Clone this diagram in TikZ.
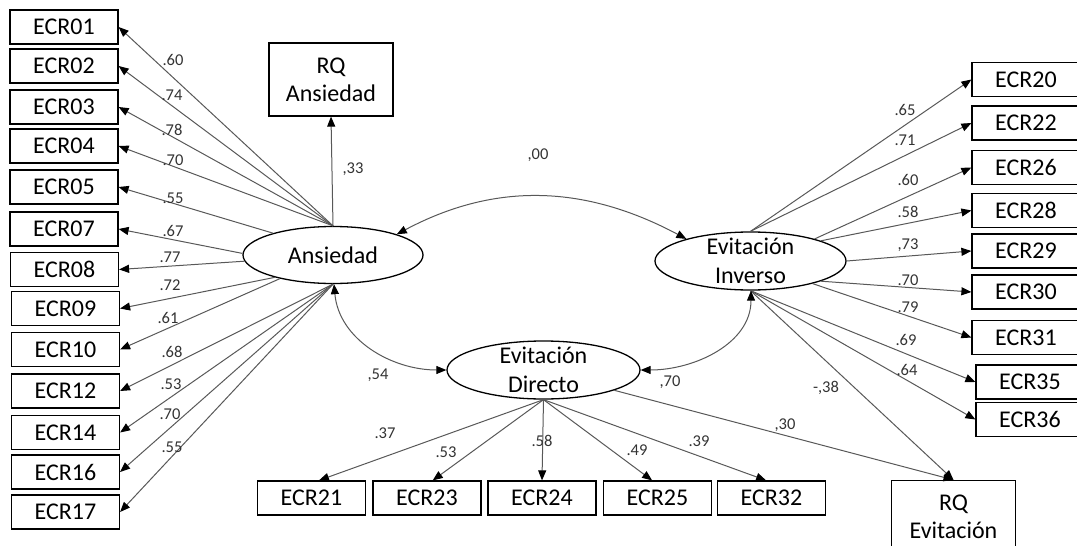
\documentclass[tikz,border=0pt]{standalone}
\usepackage{fontspec}
\setmainfont{Carlito}
\usetikzlibrary{arrows.meta,shapes.geometric}
\definecolor{linegray}{HTML}{585858}
\definecolor{labgray}{HTML}{333333}
\begin{document}
\begin{tikzpicture}[x=1pt,y=1pt,
  box/.style={draw=black, line width=1.2pt, minimum width=108pt, minimum height=34pt, inner sep=0pt, font=\fontsize{24}{27}\selectfont},
  rq/.style={draw=black, line width=1.2pt, minimum width=124pt, minimum height=73pt, inner sep=0pt, align=center, font=\fontsize{24}{28}\selectfont},
  lat/.style={draw=black, line width=1.3pt, ellipse, inner sep=0pt},
  lattext/.style={font=\fontsize{24}{29}\selectfont, align=center},
  ld/.style={draw=linegray, line width=1pt, -{Triangle[length=10pt,width=8pt,color=black]}},
  cov/.style={draw=linegray, line width=1pt, {Triangle[length=10pt,width=8pt,color=black]}-{Triangle[length=10pt,width=8pt,color=black]}},
  lab/.style={font=\fontsize{16.5}{18}\selectfont, text=labgray, inner sep=0pt},
]
\useasboundingbox (0,0) rectangle (1077,-546);

% latent variables
\node[lat, minimum width=180pt, minimum height=57pt, label={[lattext]center:Ansiedad}] (ans) at (333,-255) {};
\node[lat, minimum width=191pt, minimum height=58pt, label={[lattext]center:Evitación\\Inverso}] (inv) at (750.5,-261) {};
\node[lat, minimum width=193pt, minimum height=58pt, label={[lattext]center:Evitación\\Directo}] (dir) at (543.5,-370) {};

% RQ boxes
\node[rq] (rqa) at (331,-79.5) {RQ\\Ansiedad};
\node[rq] (rqe) at (953.5,-517) {RQ\\Evitación};

% left indicators
\node[box] (e01) at (64,-27) {ECR01};
\node[box] (e02) at (64,-66) {ECR02};
\node[box] (e03) at (64,-107) {ECR03};
\node[box] (e04) at (64,-146) {ECR04};
\node[box] (e05) at (64,-187) {ECR05};
\node[box] (e07) at (64,-229) {ECR07};
\node[box] (e08) at (64.5,-269.5) {ECR08};
\node[box] (e09) at (65.5,-308.5) {ECR09};
\node[box] (e10) at (65.5,-349.5) {ECR10};
\node[box] (e12) at (65.5,-391) {ECR12};
\node[box] (e14) at (65.5,-432.5) {ECR14};
\node[box] (e16) at (65.5,-472) {ECR16};
\node[box] (e17) at (65.5,-512) {ECR17};

% right indicators
\node[box] (e20) at (1026,-79.5) {ECR20};
\node[box] (e22) at (1026,-123) {ECR22};
\node[box] (e26) at (1026,-167.5) {ECR26};
\node[box] (e28) at (1026,-210.5) {ECR28};
\node[box] (e29) at (1026,-251) {ECR29};
\node[box] (e30) at (1026,-292) {ECR30};
\node[box] (e31) at (1026,-337.5) {ECR31};
\node[box] (e35) at (1030,-382) {ECR35};
\node[box] (e36) at (1030,-419.5) {ECR36};

% bottom indicators
\node[box] (e21) at (311.5,-498) {ECR21};
\node[box] (e23) at (427,-498) {ECR23};
\node[box] (e24) at (542,-498) {ECR24};
\node[box] (e25) at (657.5,-498) {ECR25};
\node[box] (e32) at (771.5,-498) {ECR32};

% Ansiedad loadings
\draw[ld] (ans.north) -- (e01.east);
\draw[ld] (ans.north) -- (e02.east);
\draw[ld] (ans.north) -- (e03.east);
\draw[ld] (ans.north) -- (e04.east);
\draw[ld] (ans.160) -- (e05.east);
\draw[ld] (ans.179) -- (e07.east);
\draw[ld] (ans.184) -- (e08.east);
\draw[ld] (ans.201) -- (e09.east);
\draw[ld] (ans.204) -- (e10.east);
\draw[ld] (ans.south) -- (e12.east);
\draw[ld] (ans.south) -- (e14.east);
\draw[ld] (ans.south) -- (e16.east);
\draw[ld] (ans.south) -- (e17.east);
\draw[ld] (ans.north) -- (rqa.south);

% Inverso loadings
\draw[ld] (inv.north) -- (e20.west);
\draw[ld] (inv.north) -- (e22.west);
\draw[ld] (inv.19) -- (e26.west);
\draw[ld] (inv.16) -- (e28.west);
\draw[ld] (inv.east) -- (e29.west);
\draw[ld] (inv.-16) -- (e30.west);
\draw[ld] (inv.-20) -- (e31.west);
\draw[ld] (inv.south) -- (e35.west);
\draw[ld] (inv.south) -- (e36.west);
\draw[ld] (inv.south) -- (rqe.north);

% Directo loadings
\draw[ld] (dir.south) -- (e21.67);
\draw[ld] (dir.south) -- (e23.72);
\draw[ld] (dir.south) -- (e24.north);
\draw[ld] (dir.south) -- (e25.107);
\draw[ld] (dir.south) -- (e32.107);
\draw[ld] (dir.-16) -- (rqe.north);

% covariances
\draw[cov] (ans.18) to[out=28,in=152] (inv.161);
\draw[cov] (ans.-88) to[out=-85,in=180] (dir.west);
\draw[cov] (dir.east) to[out=0,in=-90] (inv.-89);

% labels
\node[lab] (l01) at (173,-60) {.60};
\node[lab] (l02) at (172,-95) {.74};
\node[lab] (l03) at (172,-130) {.78};
\node[lab] (l04) at (173,-160) {.70};
\node[lab] (l05) at (173,-198) {.55};
\node[lab] (l07) at (173,-231) {.67};
\node[lab] (l08) at (170,-257) {.77};
\node[lab] (l09) at (170,-285) {.72};
\node[lab] (l10) at (168,-318) {.61};
\node[lab] (l12) at (172,-352) {.68};
\node[lab] (l14) at (171,-384) {.53};
\node[lab] (l16) at (170,-414) {.70};
\node[lab] (l17) at (172,-447) {.55};
\node[lab] (lrqa) at (353,-169) {,33};
\node[lab] (lai) at (538,-155) {,00};
\node[lab] (lad) at (378,-375) {,54};
\node[lab] (ldi) at (670,-382) {,70};
\node[lab] (l20) at (905,-110) {.65};
\node[lab] (l22) at (905,-140) {.71};
\node[lab] (l26) at (908,-180) {.60};
\node[lab] (l28) at (908,-212) {.58};
\node[lab] (l29) at (908,-245) {,73};
\node[lab] (l30) at (908,-280) {.70};
\node[lab] (l31) at (908,-307) {.79};
\node[lab] (l35) at (906,-340) {.69};
\node[lab] (l36) at (907,-370) {.64};
\node[lab] (lrqi) at (826,-388) {-,38};
\node[lab] (lrqd) at (785,-425) {,30};
\node[lab] (l21) at (385,-433) {.37};
\node[lab] (l23) at (446,-452) {.53};
\node[lab] (l24) at (542,-441) {.58};
\node[lab] (l25) at (637,-450) {.49};
\node[lab] (l32) at (699,-441) {.39};
\end{tikzpicture}
\end{document}
